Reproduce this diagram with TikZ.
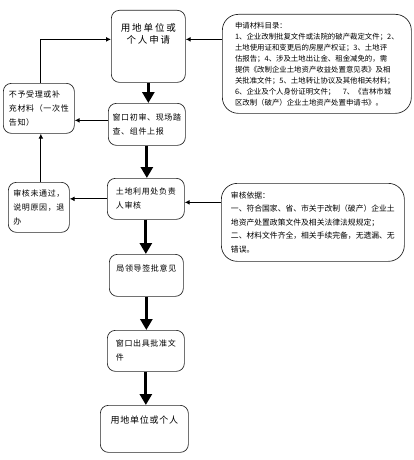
\documentclass[tikz,border=0pt]{standalone}
\usepackage{fontspec}
\setmainfont{Noto Sans CJK SC}
\newfontfamily\widecjk[LetterSpace=20]{Noto Sans CJK SC}
\newfontfamily\stepcjk[LetterSpace=8]{Noto Sans CJK SC}
\usetikzlibrary{positioning, arrows.meta, calc}

\begin{document}
\begin{tikzpicture}[
    x=1pt, y=-1pt,
    stepbox/.style={draw=black!85, rectangle, rounded corners=8pt, line width=0.7pt, anchor=north west, align=left, font=\stepcjk\fontsize{8}{14}\selectfont},
    notebox/.style={draw=black!85, rectangle, rounded corners=16pt, line width=0.7pt, anchor=north west, align=left},
    arrow/.style={-{Triangle[length=11pt, width=12pt]}, line width=3pt},
    thinarrow/.style={-{Latex[length=5pt, width=5pt]}, line width=1.2pt}
]
\useasboundingbox (0,0) rectangle (413,460);

    % --- Main column ---
    \node[stepbox, minimum width=74pt, minimum height=72pt, align=center, text depth=26pt, font=\widecjk\fontsize{9.5}{12}\selectfont] (apply) at (111,10) {用地单位或\\个人申请};
    \node[stepbox, minimum width=77pt, minimum height=42pt] (window) at (108,103) {窗口初审、现场踏\\查、组件上报};
    \node[stepbox, minimum width=77pt, minimum height=41pt] (review) at (107,178) {土地利用处负责\\人审核};
    \node[stepbox, minimum width=74pt, minimum height=42pt, text depth=15pt] (leader) at (109,254) {局领导签批意见};
    \node[stepbox, minimum width=77pt, minimum height=41pt] (issue) at (107,330) {窗口出具批准文\\件};
    \node[stepbox, minimum width=88pt, minimum height=47pt, text depth=18pt, font=\stepcjk\fontsize{9}{14}\selectfont] (result) at (100,405) {用地单位或个人};

    % --- Left column ---
    \node[stepbox, minimum width=71pt, minimum height=50pt] (reject) at (3,83) {不予受理或补\\充材料（一次性\\告知）};
    \node[stepbox, minimum width=61pt, minimum height=50pt] (fail) at (8,182) {审核未通过，\\说明原因，退\\办};

    % --- Notes on the right ---
    \node[notebox, minimum width=189pt, minimum height=99pt, font=\fontsize{7.4}{11}\selectfont] (docs) at (222,14) {申请材料目录：\\1、企业改制批复文件或法院的破产裁定文件；2、\\土地使用证和变更后的房屋产权证；3、土地评\\估报告；4、涉及土地出让金、租金减免的，需\\提供《改制企业土地资产收益处置意见表》及相\\关批准文件；5、土地转让协议及其他相关材料；\\6、企业及个人身份证明文件；\quad 7、《吉林市城\\区改制（破产）企业土地资产处置申请书》。};
    \node[notebox, minimum width=183pt, minimum height=78pt, font=\fontsize{7.8}{13.5}\selectfont] (basis) at (221,183) {审核依据：\\一、符合国家、省、市关于改制（破产）企业土\\地资产处置政策文件及相关法律法规规定；\\二、材料文件齐全，相关手续完备，无遗漏、无\\错误。};

    % Main flow
    \draw[arrow] (apply.south) -- (apply.south |- window.north);
    \draw[arrow] (window.south) -- (window.south |- review.north);
    \draw[arrow] (review.south) -- (review.south |- leader.north);
    \draw[arrow] (leader.south) -- (leader.south |- issue.north);
    \draw[arrow] (issue.south) -- (issue.south |- result.north);

    % Side links
    \coordinate (inA) at ([yshift=7pt]apply.east);
    \coordinate (inB) at ([yshift=7pt]apply.west);
    \coordinate (inC) at ([yshift=-3.5pt]review.east);
    \draw[thinarrow] (docs.west |- inA) -- (inA);
    \draw[thinarrow] ([xshift=2pt]reject.north) |- (inB);
    \draw[thinarrow] ([yshift=4pt]window.west) -- ([yshift=4pt]window.west -| reject.east);
    \draw[thinarrow] (review.west) -- (review.west -| fail.east);
    \draw[thinarrow] ([xshift=2pt]fail.north) -- ([xshift=2pt]fail.north |- reject.south);
    \draw[thinarrow] (basis.west |- inC) -- (inC);

\end{tikzpicture}
\end{document}
